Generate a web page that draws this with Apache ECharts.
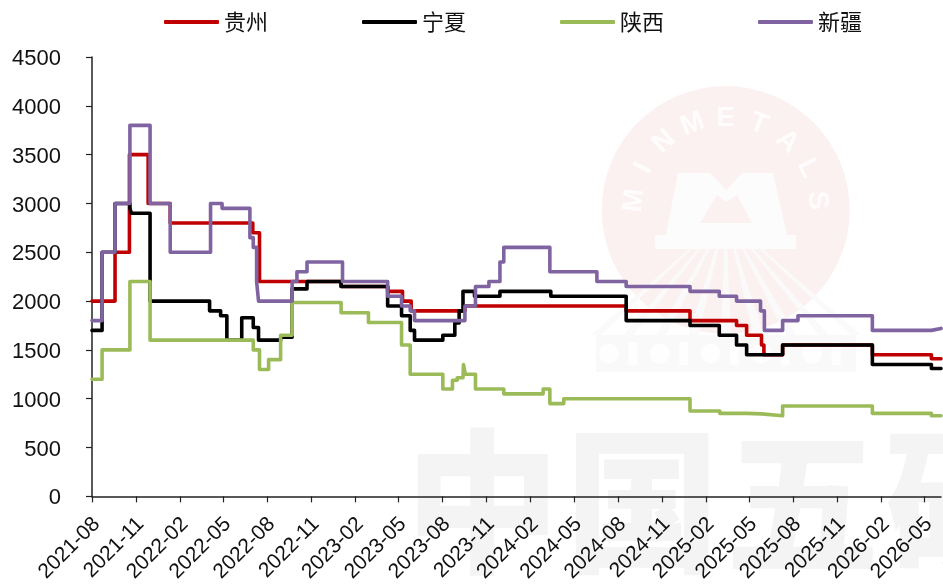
<!DOCTYPE html>
<html><head><meta charset="utf-8">
<style>html,body{margin:0;padding:0;background:#fff}#c{width:943px;height:585px}</style>
<script src="https://cdn.jsdelivr.net/npm/echarts@6/dist/echarts.min.js"></script>
</head><body><div id="c"></div>
<script>
const tickLabels=['2021-08','2021-11','2022-02','2022-05','2022-08','2022-11','2023-02','2023-05','2023-08','2023-11','2024-02','2024-05','2024-08','2024-11','2025-02','2025-05','2025-08','2025-11','2026-02','2026-05'];
const yTicksMax=4500, yTicksStep=500;
const seriesNames=['贵州','宁夏','陕西','新疆'];
const lastDate='2026-06-05';

const guizhouDates=['2021-08-01','2021-09-18','2021-10-18','2021-11-26','2022-01-11','2022-07-02','2022-07-16','2023-01-02','2023-04-09','2023-05-10','2023-05-28','2023-09-17','2024-08-18','2024-12-29','2025-04-05','2025-04-26','2025-05-27','2025-06-01','2025-07-10','2026-01-13','2026-05-16','2026-06-05'];
const guizhouValues=[2000,2500,3500,3000,2800,2700,2200,2150,2100,2000,1900,1950,1900,1800,1750,1650,1550,1450,1550,1450,1410,1410];

const ningxiaDates=['2021-08-01','2021-08-22','2021-09-18','2021-10-19','2021-10-22','2021-11-30','2022-04-03','2022-04-26','2022-05-09','2022-06-09','2022-07-03','2022-07-14','2022-08-29','2022-09-22','2022-10-23','2023-01-02','2023-04-09','2023-05-08','2023-05-26','2023-06-04','2023-08-02','2023-08-27','2023-09-05','2023-09-13','2023-10-07','2023-11-29','2024-03-14','2024-08-18','2024-12-29','2025-02-28','2025-04-05','2025-04-26','2025-07-10','2026-01-13','2026-05-16','2026-06-05'];
const ningxiaValues=[1700,2500,3000,2950,2900,2000,1900,1850,1600,1830,1730,1600,1630,2125,2200,2150,1950,1850,1700,1600,1650,1775,1900,2100,2050,2100,2050,1800,1750,1650,1550,1450,1550,1350,1310,1310];

const shaanxiDates=['2021-08-01','2021-08-22','2021-10-19','2021-11-30','2022-07-03','2022-07-16','2022-08-04','2022-08-29','2022-09-22','2023-01-02','2023-02-28','2023-05-08','2023-05-26','2023-08-02','2023-08-22','2023-09-01','2023-09-13','2023-09-14','2023-09-18','2023-10-09','2023-12-07','2024-02-27','2024-03-12','2024-04-10','2024-12-29','2025-03-01','2025-04-26','2025-05-27','2025-07-10','2026-01-13','2026-05-16','2026-06-05'];
const shaanxiValues=[1200,1500,2200,1600,1500,1300,1400,1650,1985,1880,1780,1550,1250,1100,1190,1215,1230,1350,1250,1100,1050,1100,950,1000,875,850,845,825,925,850,825,825];

const xinjiangDates=['2021-08-01','2021-08-22','2021-09-18','2021-10-19','2021-11-30','2022-01-11','2022-04-05','2022-04-29','2022-06-26','2022-07-03','2022-07-10','2022-07-14','2022-09-22','2022-10-02','2022-10-23','2023-01-05','2023-04-09','2023-05-08','2023-05-26','2023-06-04','2023-09-17','2023-10-09','2023-11-06','2023-11-29','2023-12-07','2024-03-12','2024-06-18','2024-08-18','2024-12-29','2025-02-28','2025-04-05','2025-05-25','2025-06-02','2025-07-10','2025-08-11','2026-01-13','2026-05-16','2026-06-05'];
const xinjiangValues=[1800,2500,3000,3800,3000,2500,3000,2950,2650,2550,2200,2000,2200,2300,2400,2200,2050,1950,1900,1800,1950,2150,2200,2400,2550,2300,2200,2150,2100,2050,2000,1900,1700,1800,1850,1700,1720,1720];

const colors=['#C00000','#000000','#9BBB59','#8064A2'];
const stamp=s=>new Date(s+'T00:00:00Z').getTime();
const zip=(d,v)=>d.map((x,i)=>[stamp(x),v[i]]);
const tickStamps=tickLabels.map(s=>stamp(s+'-01'));
const allData=[zip(guizhouDates,guizhouValues),zip(ningxiaDates,ningxiaValues),zip(shaanxiDates,shaanxiValues),zip(xinjiangDates,xinjiangValues)];

// faint watermark behind the chart
const cx=725.7, cy=210, wm=[];
wm.push({type:'circle',z:-20,silent:true,shape:{cx,cy,r:124},style:{fill:'#FCF1F1'}});
[...'MINMETALS'].forEach((ch,i)=>{
  const a=(-84+i*21)*Math.PI/180;
  wm.push({type:'text',z:-18,silent:true,x:cx+92*Math.sin(a),y:cy-92*Math.cos(a),rotation:-a,originX:0,originY:0,
    style:{text:ch,fill:'#FEFCFC',font:'bold 28px "Liberation Sans"',align:'center',verticalAlign:'middle'}});
});
for(let i=0;i<9;i++){
  const x0=596+i*260/8;
  wm.push({type:'polygon',z:-19,silent:true,shape:{points:[[cx,217],[x0-5,335],[x0+5,335]]},style:{fill:'#FBFAFA'}});
}
wm.push({type:'polygon',z:-18,silent:true,shape:{points:[[666,235],[678,173],[710,173],[726,190],[742,173],[773,173],[787,235],[796,235],[796,249],[655,249],[655,235]]},style:{fill:'#FDFCFC'}});
wm.push({type:'polygon',z:-17,silent:true,shape:{points:[[700,223],[717,195],[726,202],[737,195],[752,223]]},style:{fill:'#FCF1F1'}});
wm.push({type:'rect',z:-19,silent:true,shape:{x:596,y:335,width:260,height:37},style:{fill:'#F9F9F9'}});
for(let i=0;i<10;i++){
  const x0=603+i*25.4;
  if(i%2) wm.push({type:'rect',z:-18,silent:true,shape:{x:x0,y:342,width:9,height:23},style:{fill:'#FEFEFE'}});
  else wm.push({type:'circle',z:-18,silent:true,shape:{cx:x0+6,cy:353.5,r:10},style:{fill:'#FEFEFE'}});
}
[...'中国五矿'].forEach((ch,i)=>{
  wm.push({type:'text',z:-15,silent:true,x:405+i*160,y:424,
    style:{text:ch,fill:'#F4F4F4',font:'900 155px "Noto Sans CJK SC"'}});
});

const chart=echarts.init(document.getElementById('c'),null,{renderer:'canvas'});
chart.setOption({
  animation:false,
  backgroundColor:'#fff',
  graphic:{elements:wm},
  legend:{
    left:159,top:6,itemWidth:55,itemHeight:4,itemGap:94,icon:'roundRect',
    data:seriesNames,
    textStyle:{fontFamily:'"Noto Sans CJK SC"',fontSize:22,color:'#111'}
  },
  grid:{left:92,right:2,top:57,bottom:88.5,containLabel:false},
  xAxis:{
    type:'value',min:stamp(tickLabels[0]+'-01'),max:stamp(lastDate),
    splitLine:{show:false},
    axisLine:{show:true,onZero:false,lineStyle:{color:'#222',width:1.5}},
    axisTick:{show:true,length:6,customValues:tickStamps,lineStyle:{color:'#222',width:1.2}},
    axisLabel:{customValues:tickStamps,rotate:45,margin:20,verticalAlign:'top',lineHeight:13,fontFamily:'"Liberation Sans"',fontSize:21,color:'#111',
      hideOverlap:false,
      formatter:v=>tickLabels[tickStamps.indexOf(+v)]||''}
  },
  yAxis:{
    type:'value',min:0,max:yTicksMax,interval:yTicksStep,
    splitLine:{show:false},
    axisLine:{show:true,lineStyle:{color:'#222',width:1.5}},
    axisTick:{show:true,length:6,lineStyle:{color:'#222',width:1.2}},
    axisLabel:{margin:31,verticalAlign:'top',lineHeight:4,fontFamily:'"Liberation Sans"',fontSize:22,color:'#111',formatter:v=>String(v)}
  },
  series:seriesNames.map((n,i)=>({
    name:n,type:'line',step:'end',showSymbol:false,symbol:'none',z:2+i,
    lineStyle:{color:colors[i],width:3.6,cap:'round',join:'round'},
    itemStyle:{color:colors[i]},
    data:allData[i]
  }))
});
</script></body></html>
